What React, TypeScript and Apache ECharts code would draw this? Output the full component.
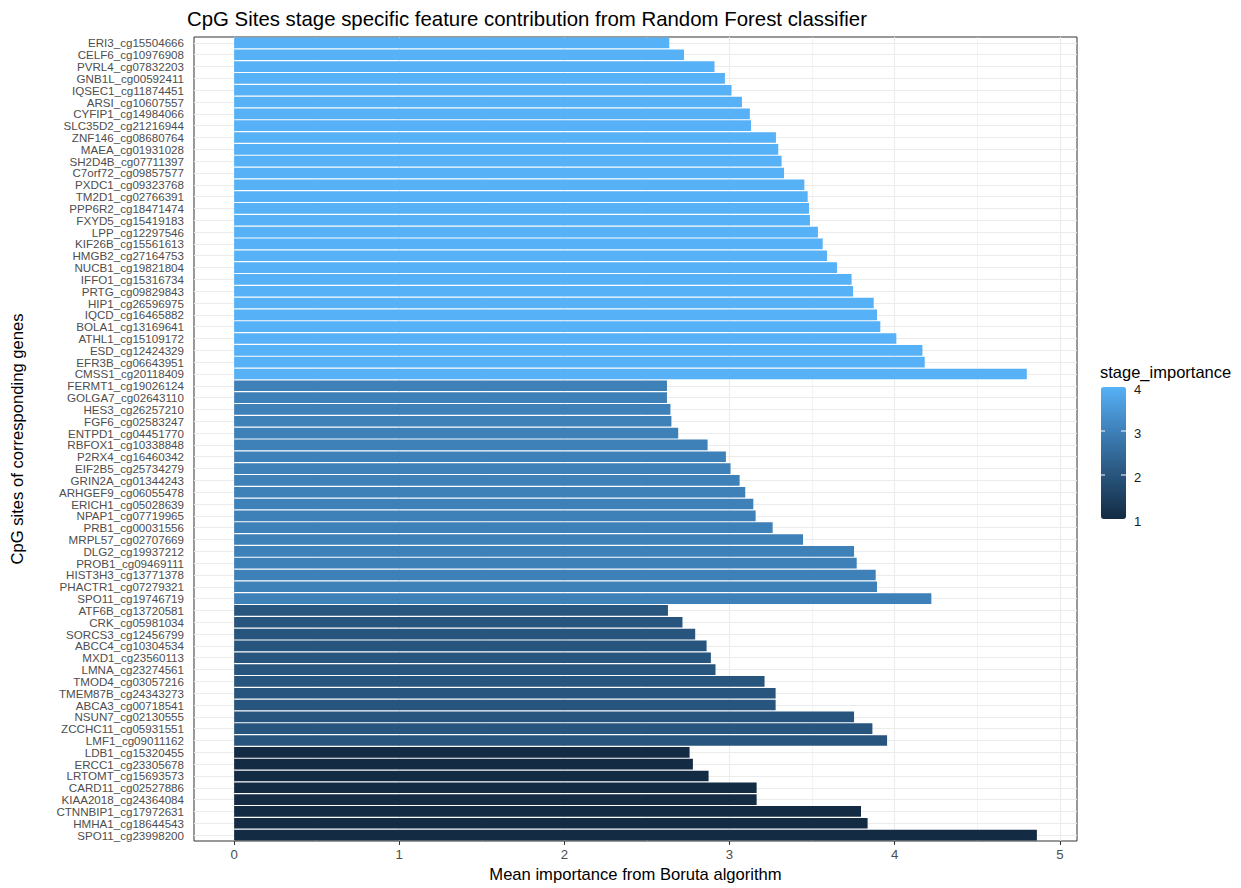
import React, { useEffect, useRef } from "react";
import * as echarts from "echarts";

const categories: string[] = [
  "ERI3_cg15504666", "CELF6_cg10976908", "PVRL4_cg07832203", "GNB1L_cg00592411",
  "IQSEC1_cg11874451", "ARSI_cg10607557", "CYFIP1_cg14984066", "SLC35D2_cg21216944",
  "ZNF146_cg08680764", "MAEA_cg01931028", "SH2D4B_cg07711397", "C7orf72_cg09857577",
  "PXDC1_cg09323768", "TM2D1_cg02766391", "PPP6R2_cg18471474", "FXYD5_cg15419183",
  "LPP_cg12297546", "KIF26B_cg15561613", "HMGB2_cg27164753", "NUCB1_cg19821804",
  "IFFO1_cg15316734", "PRTG_cg09829843", "HIP1_cg26596975", "IQCD_cg16465882",
  "BOLA1_cg13169641", "ATHL1_cg15109172", "ESD_cg12424329", "EFR3B_cg06643951",
  "CMSS1_cg20118409",
  "FERMT1_cg19026124", "GOLGA7_cg02643110", "HES3_cg26257210", "FGF6_cg02583247",
  "ENTPD1_cg04451770", "RBFOX1_cg10338848", "P2RX4_cg16460342", "EIF2B5_cg25734279",
  "GRIN2A_cg01344243", "ARHGEF9_cg06055478", "ERICH1_cg05028639", "NPAP1_cg07719965",
  "PRB1_cg00031556", "MRPL57_cg02707669", "DLG2_cg19937212", "PROB1_cg09469111",
  "HIST3H3_cg13771378", "PHACTR1_cg07279321", "SPO11_cg19746719",
  "ATF6B_cg13720581", "CRK_cg05981034", "SORCS3_cg12456799", "ABCC4_cg10304534",
  "MXD1_cg23560113", "LMNA_cg23274561", "TMOD4_cg03057216", "TMEM87B_cg24343273",
  "ABCA3_cg00718541", "NSUN7_cg02130555", "ZCCHC11_cg05931551", "LMF1_cg09011162",
  "LDB1_cg15320455", "ERCC1_cg23305678", "LRTOMT_cg15693573", "CARD11_cg02527886",
  "KIAA2018_cg24364084", "CTNNBIP1_cg17972631", "HMHA1_cg18644543", "SPO11_cg23998200",
];

const importance: number[] = [
  2.635, 2.724, 2.909, 2.972, 3.012, 3.075, 3.123, 3.130, 3.281, 3.295, 3.315, 3.330,
  3.453, 3.473, 3.481, 3.487, 3.535, 3.564, 3.590, 3.651, 3.739, 3.748, 3.873, 3.893,
  3.913, 4.010, 4.168, 4.182, 4.800,
  2.621, 2.621, 2.642, 2.648, 2.689, 2.867, 2.978, 3.006, 3.061, 3.095, 3.144, 3.158,
  3.261, 3.445, 3.754, 3.770, 3.885, 3.893, 4.222,
  2.627, 2.715, 2.792, 2.861, 2.887, 2.915, 3.212, 3.279, 3.279, 3.754, 3.865, 3.954,
  2.758, 2.778, 2.873, 3.164, 3.164, 3.796, 3.836, 4.861,
];

const stageImportance: number[] = [
  4, 4, 4, 4, 4, 4, 4, 4, 4, 4, 4, 4, 4, 4, 4, 4, 4, 4, 4, 4, 4, 4, 4, 4, 4, 4, 4, 4, 4,
  3, 3, 3, 3, 3, 3, 3, 3, 3, 3, 3, 3, 3, 3, 3, 3, 3, 3, 3,
  2, 2, 2, 2, 2, 2, 2, 2, 2, 2, 2, 2,
  1, 1, 1, 1, 1, 1, 1, 1,
];

const xTicks: number[] = [0, 1, 2, 3, 4, 5];
const xMinorGrid: number[] = [0.5, 1.5, 2.5, 3.5, 4.5];
const legendTicks: number[] = [1, 2, 3, 4];
const stageColors: string[] = ["#132B43", "#28557D", "#3E80B8", "#56B1F7"];

const FONT = "'Liberation Sans', Arial, sans-serif";

export default function App() {
  const ref = useRef<HTMLDivElement>(null);

  useEffect(() => {
    if (!ref.current) return;
    const chart = echarts.init(ref.current, null, { renderer: "svg" });

    const legendLeft = 1101;
    const legendTop = 387;
    const legendW = 25;
    const legendH = 132;
    const legendY = (v: number) => legendTop + (legendH * (4 - v)) / 3;

    const graphics: any[] = [];
    legendTicks.forEach((v) => {
      graphics.push({
        type: "text",
        left: legendLeft + legendW + 8,
        top: legendY(v) - 4,
        style: { text: String(v), fill: "#1A1A1A", font: `13px ${FONT}` },
        z: 10,
      });
      if (v > 1 && v < 4) {
        const y = legendY(v);
        graphics.push({
          type: "line",
          shape: { x1: legendLeft, y1: y, x2: legendLeft + 4, y2: y },
          style: { stroke: "#FFFFFF", lineWidth: 1 },
          z: 10,
        });
        graphics.push({
          type: "line",
          shape: { x1: legendLeft + legendW - 5, y1: y, x2: legendLeft + legendW, y2: y },
          style: { stroke: "#FFFFFF", lineWidth: 1 },
          z: 10,
        });
      }
    });
    graphics.push({
      type: "text",
      left: legendLeft - 1,
      top: 363,
      style: { text: "stage_importance", fill: "#000000", font: `16.5px ${FONT}` },
    });

    const gridLines: any[] = [
      ...categories.map((c) => ({ yAxis: c, lineStyle: { width: 1.07 } })),
      ...xTicks.map((v) => ({ xAxis: v, lineStyle: { width: 1.07 } })),
      ...xMinorGrid.map((v) => ({ xAxis: v, lineStyle: { width: 0.55 } })),
    ];

    chart.setOption({
      animation: false,
      backgroundColor: "#FFFFFF",
      textStyle: { fontFamily: FONT },
      title: {
        text: "CpG Sites stage specific feature contribution from Random Forest classifier",
        left: 182,
        top: 4,
        textStyle: { fontSize: 20.4, fontWeight: "normal", color: "#000000", fontFamily: FONT },
      },
      grid: {
        left: 194,
        right: 164,
        top: 37,
        bottom: 44,
        show: true,
        borderColor: "#333333",
        borderWidth: 1,
        backgroundColor: "transparent",
        containLabel: false,
      },
      xAxis: {
        type: "value",
        min: -0.243,
        max: 5.104,
        name: "Mean importance from Boruta algorithm",
        nameLocation: "middle",
        nameGap: 25,
        nameTextStyle: { fontSize: 16.6, color: "#000000", fontFamily: FONT },
        axisLine: { show: false },
        axisTick: {
          show: true,
          length: 4,
          customValues: xTicks,
          lineStyle: { color: "#333333" },
        },
        axisLabel: {
          customValues: xTicks,
          fontSize: 13.2,
          color: "#4D4D4D",
          margin: 7,
          fontFamily: FONT,
        },
        splitLine: { show: false },
      },
      yAxis: {
        type: "category",
        data: categories,
        inverse: true,
        name: "CpG sites of corresponding genes",
        nameLocation: "middle",
        nameRotate: 90,
        nameGap: 168,
        nameTextStyle: { fontSize: 16.6, color: "#000000", fontFamily: FONT },
        axisLine: { show: false },
        axisTick: {
          show: true,
          alignWithLabel: true,
          interval: 0,
          length: 4,
          lineStyle: { color: "#333333" },
        },
        axisLabel: {
          interval: 0,
          fontSize: 11.6,
          lineHeight: 11,
          color: "#4D4D4D",
          margin: 10,
          fontFamily: FONT,
        },
        splitLine: { show: false },
      },
      visualMap: {
        type: "continuous",
        min: 1,
        max: 4,
        dimension: 2,
        seriesIndex: 0,
        calculable: false,
        show: true,
        left: legendLeft,
        top: legendTop,
        itemWidth: legendW,
        itemHeight: legendH,
        padding: 0,
        text: null,
        showLabel: false,
        inRange: { color: stageColors },
      },
      graphic: graphics,
      series: [
        {
          type: "bar",
          z: 2,
          barCategoryGap: "10%",
          encode: { x: 0, y: 1 },
          data: categories.map((c, i) => [importance[i], c, stageImportance[i]]),
          markLine: {
            silent: true,
            z: 1,
            symbol: ["none", "none"],
            label: { show: false },
            lineStyle: { color: "#EBEBEB", type: "solid", width: 1 },
            emphasis: { disabled: true },
            data: gridLines,
          },
        },
      ],
    });

    return () => chart.dispose();
  }, []);

  return (
    <div
      ref={ref}
      style={{ position: "fixed", left: 0, top: 0, width: 1241, height: 888 }}
    />
  );
}
